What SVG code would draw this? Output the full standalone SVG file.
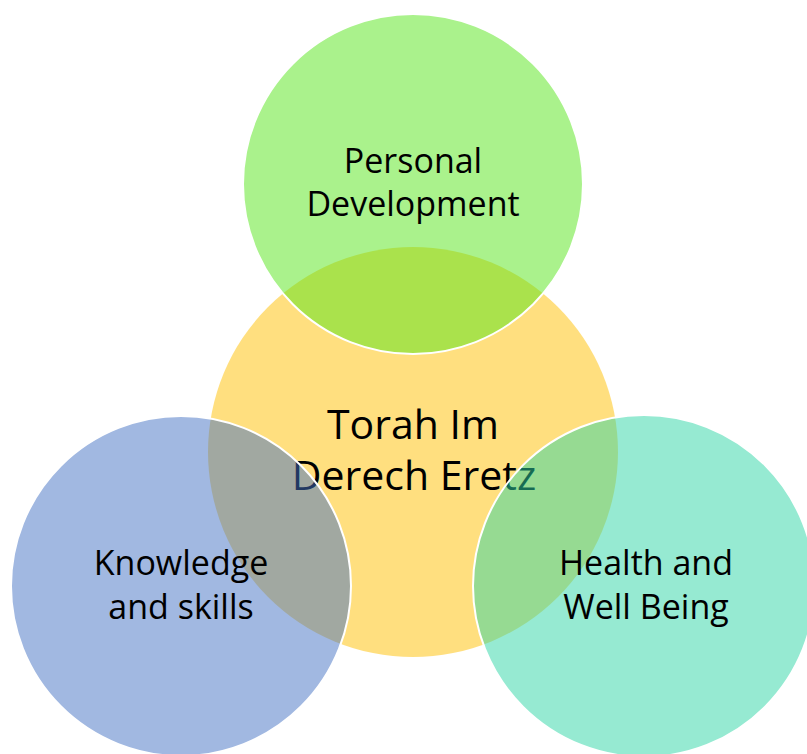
<svg xmlns="http://www.w3.org/2000/svg" width="807" height="754" viewBox="0 0 807 754">
  <style>
    .lbl { font-family: "Open Sans", "Noto Sans", sans-serif; fill: #000; text-anchor: middle; }
    .outer { font-size: 34px; }
    .center { font-size: 41px; }
    .ring { stroke: #fff; stroke-width: 2; fill-opacity: 0.5; }
  </style>
  <rect width="807" height="754" fill="#fff"/>
  <g id="center-node">
    <circle cx="413" cy="452" r="205" fill="#FFC000" fill-opacity="0.5"/>
    <text class="lbl center" x="413" y="439">Torah Im</text>
    <text class="lbl center" x="414" y="490">Derech Eretz</text>
  </g>
  <g id="personal-development">
    <circle class="ring" cx="413" cy="184" r="170" fill="#55E61A"/>
    <text class="lbl outer" x="413" y="173">Personal</text>
    <text class="lbl outer" x="413" y="216">Development</text>
  </g>
  <g id="knowledge-skills">
    <circle class="ring" cx="181" cy="586" r="170" fill="#4472C4"/>
    <text class="lbl outer" x="181" y="575">Knowledge</text>
    <text class="lbl outer" x="181" y="619">and skills</text>
  </g>
  <g id="health-wellbeing">
    <circle class="ring" cx="644" cy="586" r="171" fill="#2DD5A5"/>
    <text class="lbl outer" x="646" y="575">Health and</text>
    <text class="lbl outer" x="646" y="619">Well Being</text>
  </g>
</svg>
